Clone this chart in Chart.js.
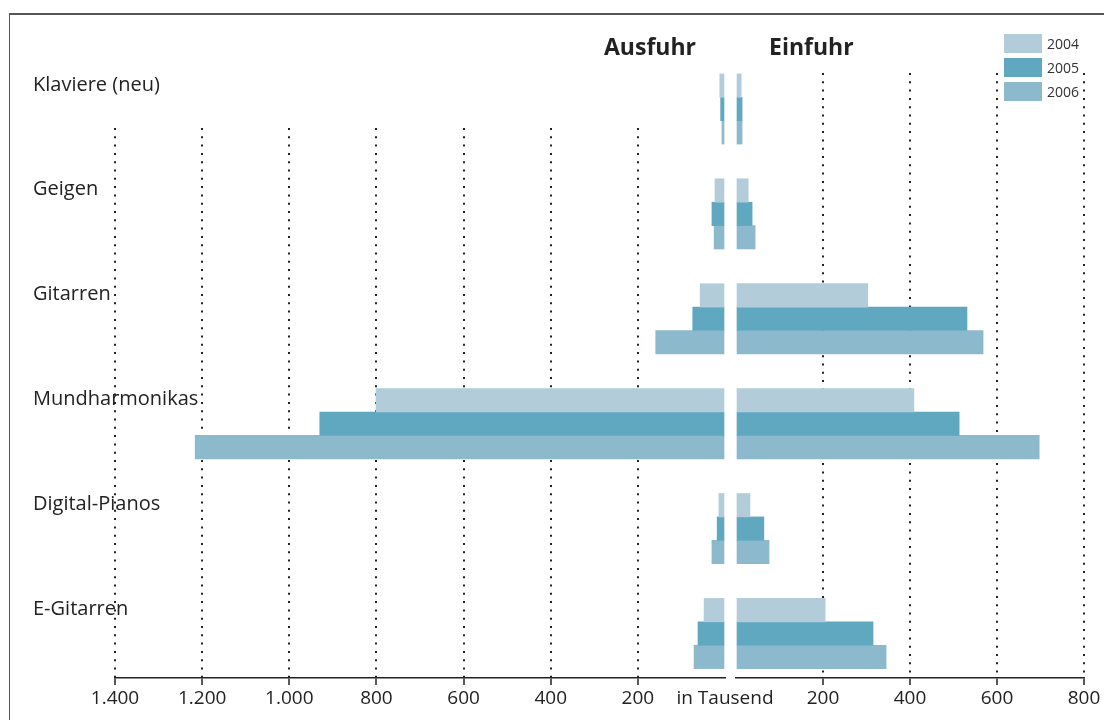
<!DOCTYPE html>
<html>
<head>
<meta charset="utf-8">
<script src="https://cdn.jsdelivr.net/npm/chart.js@4.4.0/dist/chart.umd.min.js"></script>
<style>
  body { margin: 0; background: #fff; font-family: 'Open Sans', sans-serif; color: #222; }
  #wrap { position: relative; width: 1104px; height: 720px; overflow: hidden; }
  #frame { position: absolute; left: 9px; top: 13px; width: 1200px; height: 800px;
    border-top: 2px solid #555; border-left: 1.5px solid #555; }
  canvas { position: absolute; left: 0; top: 0; }
  .head { position: absolute; top: 35px; font-size: 23px; font-weight: 700; line-height: 23px; }
  #legend { position: absolute; left: 1004px; top: 34px; }
  .item { display: flex; align-items: center; height: 19px; margin-bottom: 5px; font-size: 14px; color: #333; }
  .item span { display: inline-block; width: 38px; height: 19px; margin-right: 5px; }
</style>
</head>
<body>
<div id="wrap">
  <div id="frame"></div>
  <canvas id="leftChart" width="1104" height="720"></canvas>
  <canvas id="rightChart" width="1104" height="720"></canvas>
  <div class="head" style="left:604px">Ausfuhr</div>
  <div class="head" style="left:769px">Einfuhr</div>
  <div id="legend"></div>
</div>
<script>
// ---- data (in Tausend) ----
const categories = ['Klaviere (neu)', 'Geigen', 'Gitarren', 'Mundharmonikas', 'Digital-Pianos', 'E-Gitarren'];
const years = ['2004', '2005', '2006'];
const colors = ['#b2cdd9', '#5fa8c0', '#8db9cc'];

const export2004 = [12, 23, 57, 801, 14, 48];
const export2005 = [10, 30, 74, 930, 18, 62];
const export2006 = [7, 25, 159, 1216, 30, 71];

const import2004 = [12, 28, 303, 409, 32, 205];
const import2005 = [14, 37, 531, 513, 64, 315];
const import2006 = [14, 44, 568, 697, 76, 345];

const exportTicks = [0, 200, 400, 600, 800, 1000, 1200, 1400];
const importTicks = [0, 200, 400, 600, 800];

// legend
document.getElementById('legend').innerHTML = years.map((y, i) =>
  `<div class="item"><span style="background:${colors[i]}"></span>${y}</div>`).join('');

function fmt(v) {
  return String(v).replace(/\B(?=(\d{3})+(?!\d))/g, '.');
}

function makeSets(series) {
  return series.map((vals, s) => ({
    label: years[s],
    data: vals.map((v, i) => ({ x: v, y: i })),
    backgroundColor: colors[s],
    borderWidth: 0,
    barThickness: 23.4,
    clip: false
  }));
}

function xScale(max, ticks, reverse, zeroLabel) {
  return {
    type: 'linear',
    min: 0, max: max, reverse: reverse,
    afterBuildTicks: s => { s.ticks = ticks.map(v => ({ value: v })); },
    afterFit: s => { s.height = 42; },
    border: { display: true, color: '#222', width: 1.5, dash: [2, 6.3] },
    grid: {
      color: c => c.tick && c.tick.value === 0 ? 'rgba(0,0,0,0)' : '#222',
      tickColor: c => c.tick && c.tick.value === 0 ? 'rgba(0,0,0,0)' : '#222',
      lineWidth: 2,
      tickBorderDash: [],
      tickWidth: 1.5,
      tickLength: 7
    },
    ticks: {
      autoSkip: false, maxRotation: 0, padding: 2,
      color: '#222',
      font: { family: 'Open Sans', size: 19 },
      callback: v => v === 0 ? zeroLabel : fmt(v)
    }
  };
}

function yScale(min, max) {
  return {
    type: 'linear', reverse: true, min: min, max: max, display: false,
    offset: false, grid: { offset: false },
    ticks: { stepSize: 1, includeBounds: false }
  };
}

// category names drawn at the top of each bar group
const groupLabels = {
  id: 'groupLabels',
  afterDraw(chart) {
    const ys = chart.scales.y, ctx = chart.ctx;
    ctx.save();
    ctx.fillStyle = '#222';
    ctx.font = '20px "Open Sans"';
    ctx.textAlign = 'left';
    ctx.textBaseline = 'middle';
    categories.forEach((c, i) => ctx.fillText(c, 33, ys.getPixelForValue(i - 0.23)));
    ctx.restore();
  }
};

// Ausfuhr (left, reversed)
new Chart(document.getElementById('leftChart'), {
  type: 'bar',
  data: { datasets: makeSets([export2004, export2005, export2006]) },
  options: {
    indexAxis: 'y',
    responsive: false,
    animation: false,
    layout: { padding: { left: 115, right: 379, top: 128, bottom: 0 } },
    plugins: { legend: { display: false }, tooltip: { enabled: false } },
    scales: { x: xScale(1400, exportTicks, true, 'in Tausend'), y: yScale(0.181, 5.424) }
  },
  plugins: [groupLabels]
});

// Einfuhr (right)
new Chart(document.getElementById('rightChart'), {
  type: 'bar',
  data: { datasets: makeSets([import2004, import2005, import2006]) },
  options: {
    indexAxis: 'y',
    responsive: false,
    animation: false,
    layout: { padding: { left: 736, right: 20, top: 73, bottom: 0 } },
    plugins: { legend: { display: false }, tooltip: { enabled: false } },
    scales: { x: xScale(800, importTicks, false, ''), y: yScale(-0.343, 5.424) }
  }
});
</script>
</body>
</html>
